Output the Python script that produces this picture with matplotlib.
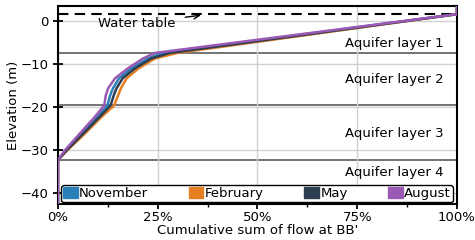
import matplotlib
matplotlib.use("Agg")
import matplotlib.pyplot as plt
from matplotlib.patches import Patch

# ---- data ----
elevation = [-43, -32.4, -30.1, -26.2, -22.3, -19.7, -17.3, -15.7, -13.4, -11.1, -8.8, -7.5, 1.5, 3.6]
november = [0, 0, 2.0, 6.0, 10.0, 12.4, 13.1, 13.8, 15.3, 18.4, 22.5, 26.2, 100, 100]
february = [0, 0, 2.4, 6.8, 11.0, 14.1, 15.1, 15.8, 17.2, 20.2, 24.3, 30.0, 100, 100]
may = [0, 0, 2.2, 6.4, 10.5, 13.2, 14.0, 14.7, 16.2, 19.3, 23.4, 28.1, 100, 100]
august = [0, 0, 1.75, 5.5, 9.3, 11.6, 12.0, 12.6, 14.3, 17.5, 21.3, 24.3, 100, 100]
series_names = ["November", "February", "May", "August"]
series_values = [november, february, may, august]
colors = ["#2980b9", "#e67e22", "#2c3e50", "#9b59b6"]

layer_bounds = [-7.5, -19.7, -32.4]
layer_labels = ["Aquifer layer 1", "Aquifer layer 2", "Aquifer layer 3", "Aquifer layer 4"]
layer_label_y = [-5.3, -13.6, -26.2, -35.3]
water_table = 1.5
xticks = [0, 25, 50, 75, 100]
xtick_labels = ["0%", "25%", "50%", "75%", "100%"]
yticks = [0, -10, -20, -30, -40]

fs = 9.5
plt.rcParams['font.family'] = ['DejaVu Sans']
fig = plt.figure(figsize=(4.75, 2.4), dpi=100)
ax = fig.add_axes([0.122, 0.15, 0.840, 0.825])

ax.set_xlim(0, 100)
ax.set_ylim(-42.6, 3.4)
ax.set_xticks(xticks)
ax.set_xticklabels(xtick_labels, fontsize=fs)
ax.set_xticks([12.5, 37.5, 62.5, 87.5], minor=True)
ax.set_yticks(yticks)
ax.set_yticklabels(["0", "\u221210", "\u221220", "\u221230", "\u221240"], fontsize=fs)
ax.grid(True, color="0.82", lw=1.0, zorder=0)
ax.tick_params(which="major", direction="inout", length=7, width=1.3)
ax.tick_params(axis="x", which="major", pad=1.5)
ax.tick_params(which="minor", direction="inout", length=5, width=1.0)
for s in ax.spines.values():
    s.set_linewidth(1.5)

for b in layer_bounds:
    ax.axhline(b, color="0.3", lw=1.1, zorder=1)
ax.axhline(water_table, color="black", lw=1.5, ls=(0, (5, 3)), zorder=2)

for name, vals, c in zip(series_names, series_values, colors):
    ax.plot(vals, elevation, color=c, lw=1.8, zorder=3, solid_joinstyle="miter")

for lab, y in zip(layer_labels, layer_label_y):
    ax.text(96.6, y, lab, ha="right", va="center", fontsize=fs)

ax.text(19.8, -0.6, "Water table", ha="center", va="center", fontsize=fs)
ax.annotate("", xy=(36.5, 1.35), xytext=(31.2, 0.7),
            arrowprops=dict(arrowstyle="->", color="black", lw=1.0))

handles = [Patch(facecolor=c, edgecolor=c) for c in colors]
leg = ax.legend(handles, series_names, loc="lower left", ncol=4, mode="expand",
                bbox_to_anchor=(0.008, 0.008, 0.982, 0.1), fontsize=fs,
                handlelength=1.1, handleheight=0.9, handletextpad=0.1,
                borderpad=0.15, borderaxespad=0.0, columnspacing=0.5,
                framealpha=1.0, fancybox=True)
leg.get_frame().set_edgecolor("black")
leg.get_frame().set_linewidth(1.0)
leg.set_zorder(5)

ax.set_xlabel("Cumulative sum of flow at BB'", fontsize=fs, labelpad=0)
ax.set_ylabel("Elevation (m)", fontsize=fs, labelpad=0.5)

fig.savefig("out.png", dpi=100)
